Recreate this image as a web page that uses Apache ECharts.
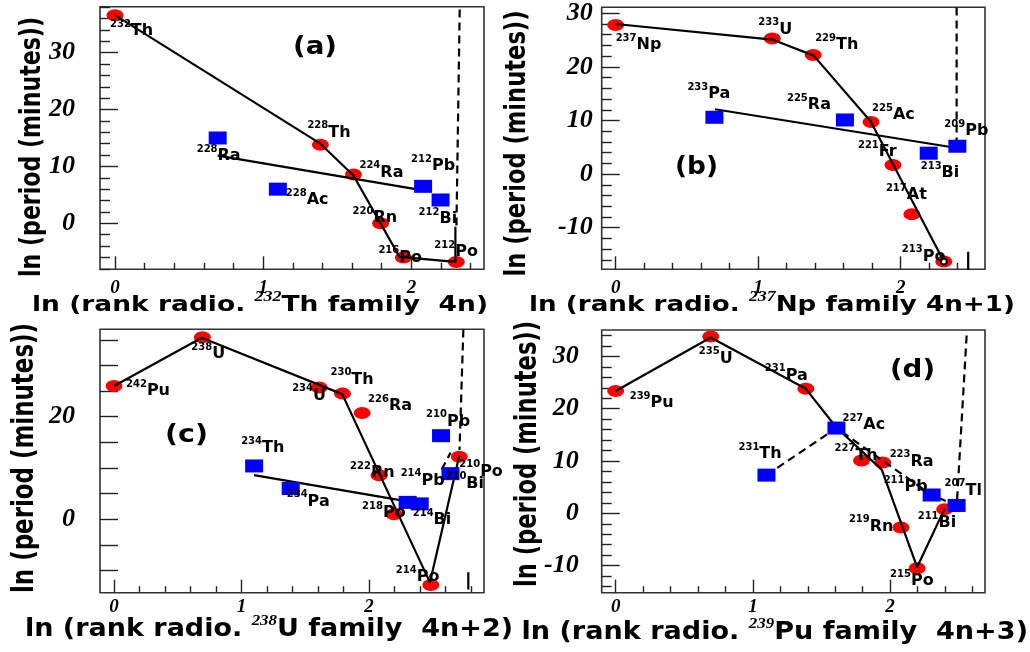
<!DOCTYPE html>
<html>
<head>
<meta charset="utf-8">
<script src="https://cdn.jsdelivr.net/npm/echarts@6/dist/echarts.min.js"></script>
<style>
  html, body { margin: 0; padding: 0; background: #fff; }
  #chart { width: 1030px; height: 652px; }
</style>
</head>
<body>
<div id="chart"></div>
<script>
// x = ln(rank of the nuclide in its radioactive family), y = ln(half-life in minutes)
// Red = alpha emitters, blue = beta emitters.

// ---------- (a) 232Th family, 4n ----------
const thAlphaNuclides = ['232Th', '228Th', '224Ra', '220Rn', '216Po', '212Po'];
const thAlphaX = [0, 1.386, 1.609, 1.792, 1.946, 2.303];
const thAlphaY = [36.6, 13.8, 8.6, 0.0, -6.0, -6.8];
const thBetaNuclides = ['228Ra', '228Ac', '212Pb', '212Bi'];
const thBetaX = [0.693, 1.099, 2.079, 2.197];
const thBetaY = [15.0, 6.0, 6.5, 4.1];
const thAlphaPathX = [0, 1.386, 1.609, 1.92, 2.297, 2.297];
const thAlphaPathY = [36.6, 14.0, 8.4, -5.9, -6.8, -0.6];
const thBetaFitX = [0.693, 2.079];
const thBetaFitY = [11.9, 5.8];
const thLimitX = [2.326, 2.304];
const thLimitY = [37.6, -0.6];

// ---------- (b) 237Np family, 4n+1 ----------
const npAlphaNuclides = ['237Np', '233U', '229Th', '225Ac', '221Fr', '217At', '213Po'];
const npAlphaX = [0, 1.099, 1.386, 1.792, 1.946, 2.079, 2.303];
const npAlphaY = [27.8, 25.3, 22.2, 9.7, 1.7, -7.5, -16.3];
const npBetaNuclides = ['233Pa', '225Ra', '213Bi', '209Pb'];
const npBetaX = [0.693, 1.609, 2.197, 2.398];
const npBetaY = [10.6, 10.1, 3.9, 5.2];
const npAlphaPathX = [0, 1.099, 1.39, 1.79, 2.295];
const npAlphaPathY = [28.0, 25.1, 22.1, 9.8, -15.9];
const npBetaFitX = [0.697, 2.34];
const npBetaFitY = [12.1, 5.1];
const npLimitX = [2.393, 2.393];
const npLimitY = [31.1, 5.2];
const npMarkX = [2.474, 2.474];
const npMarkY = [-14.5, -17.8];

// ---------- (c) 238U family, 4n+2 ----------
const uAlphaNuclides = ['242Pu', '238U', '234U', '230Th', '226Ra', '222Rn', '218Po', '214Po', '210Po'];
const uAlphaX = [0, 0.693, 1.609, 1.792, 1.946, 2.079, 2.197, 2.485, 2.708];
const uAlphaY = [26.0, 35.5, 25.7, 24.5, 20.7, 8.6, 1.0, -12.8, 12.2];
const uBetaNuclides = ['234Th', '234Pa', '214Pb', '214Bi', '210Pb', '210Bi'];
const uBetaX = [1.099, 1.386, 2.303, 2.398, 2.565, 2.639];
const uBetaY = [10.4, 6.0, 3.3, 3.0, 16.3, 8.9];
const uAlphaPathX = [0, 0.688, 1.79, 2.478, 2.708];
const uAlphaPathY = [26.0, 35.4, 24.4, -12.3, 12.4];
const uBetaFitX = [1.098, 2.30];
const uBetaFitY = [8.6, 3.5];
const uLimitX = [2.74, 2.71];
const uLimitY = [37.0, 13.5];
const uLinkX = [2.57, 2.64];
const uLinkY = [9.7, 13.0];
const uMarkX = [2.779, 2.779];
const uMarkY = [-10.3, -13.7];

// ---------- (d) 239Pu family, 4n+3 ----------
const puAlphaNuclides = ['239Pu', '235U', '231Pa', '227Th', '223Ra', '219Rn', '215Po', '211Bi'];
const puAlphaX = [0, 0.693, 1.386, 1.792, 1.946, 2.079, 2.197, 2.398];
const puAlphaY = [23.4, 33.8, 23.8, 10.1, 9.7, -2.7, -10.5, 0.8];
const puBetaNuclides = ['231Th', '227Ac', '211Pb', '207Tl'];
const puBetaX = [1.099, 1.609, 2.303, 2.485];
const puBetaY = [7.3, 16.3, 3.5, 1.5];
const puAlphaPathX = [0, 0.693, 1.386, 1.609, 1.94, 2.197, 2.398];
const puAlphaPathY = [23.4, 33.6, 23.8, 16.4, 8.3, -10.3, 0.9];
const puBetaPathX = [1.099, 1.609, 2.303, 2.485];
const puBetaPathY = [7.3, 16.3, 3.5, 1.5];
const puLimitX = [2.558, 2.486];
const puLimitY = [34.0, 1.5];

// ---------- tick values ----------
const xMajorTicks = [0, 1, 2];
const xMinorTicksA = [0.2, 0.4, 0.6, 0.8, 1.2, 1.4, 1.6, 1.8, 2.2, 2.4];
const xMinorTicksC = [0.2, 0.4, 0.6, 0.8, 1.2, 1.4, 1.6, 1.8, 2.2, 2.4, 2.6, 2.8];
const xMinorTicksD = [0.2, 0.4, 0.6, 0.8, 1.2, 1.4, 1.6, 1.8, 2.2, 2.4, 2.6];
const yMajorTicksA = [0, 10, 20, 30];
const yMinorTicksA = [-8, -6, -4, -2, 2, 4, 6, 8, 12, 14, 16, 18, 22, 24, 26, 28, 32, 34, 36, 38];
const yMajorTicksB = [-10, 0, 10, 20, 30];
const yMinorTicksB = [-16, -14, -12, -8, -6, -4, -2, 2, 4, 6, 8, 12, 14, 16, 18, 22, 24, 26, 28];
const yTicksC = [-10, -5, 0, 5, 10, 15, 20, 25, 30, 35];
const yLabelsC = [0, 20];
const yMajorTicksD = [-10, 0, 10, 20, 30];
const yMinorTicksD = [-14, -12, -8, -6, -4, -2, 2, 4, 6, 8, 12, 14, 16, 18, 22, 24, 26, 28, 32, 34];

// ---------- text placement of nuclide names (pixel offsets from the marker) ----------
const thAlphaLabelPos = [[-5, 16], [-13, -12], [6, -2], [-28, -5], [-25, 0], [-22, -10]];
const thBetaLabelPos = [[-21, 18], [8, 11], [-12, -20], [-22, 19]];
const npAlphaLabelPos = [[0, 20], [-14, -9], [2, -10], [1, -7], [-35, -13], [-26, -19], [-42, -5]];
const npBetaLabelPos = [[-27, -23], [-58, -15], [-8, 20], [-13, -15]];
const uAlphaLabelPos = [[12, 5], [-11, 17], [-27, 8], [-12, -14], [6, -7], [-29, -2], [-32, -1], [-35, -8], [0, 15]];
const uBetaLabelPos = [[-13, -18], [-4, 13], [-7, -22], [-7, 16], [-15, -14], [-5, 10]];
const puAlphaLabelPos = [[14, 12], [-12, 22], [-41, -13], [-27, -5], [7, -1], [-52, -1], [-27, 13], [-27, 14]];
const puBetaLabelPos = [[-28, -21], [6, -3], [-48, -8], [-12, -15]];

const SANS = '"DejaVu Sans", sans-serif';
const SERIF = '"Liberation Serif", "DejaVu Serif", serif';

const zip = (xs, ys) => xs.map((x, i) => [x, ys[i]]);

const panels = [
  {
    grid: { left: 100, top: 6.7, width: 384, height: 262.6 },
    xMin: -0.101, xMax: 2.49, yMin: -8.09, yMax: 38.09,
    xMajor: xMajorTicks, xMinor: xMinorTicksA,
    yMajor: yMajorTicksA, yMinor: yMinorTicksA, yLabels: yMajorTicksA,
    yMajorLen: 18, yLabelMargin: 25, xLabelMargin: 9,
    alpha: [thAlphaNuclides, thAlphaX, thAlphaY, thAlphaLabelPos],
    beta: [thBetaNuclides, thBetaX, thBetaY, thBetaLabelPos],
    solid: [zip(thAlphaPathX, thAlphaPathY), zip(thBetaFitX, thBetaFitY)],
    dashed: [zip(thLimitX, thLimitY)]
  },
  {
    grid: { left: 601.7, top: 7.3, width: 383.3, height: 262 },
    xMin: -0.098, xMax: 2.592, yMin: -17.76, yMax: 31.12,
    xMajor: xMajorTicks, xMinor: xMinorTicksA,
    yMajor: yMajorTicksB, yMinor: yMinorTicksB, yLabels: yMajorTicksB,
    yMajorLen: 18, yLabelMargin: 9, xLabelMargin: 9,
    alpha: [npAlphaNuclides, npAlphaX, npAlphaY, npAlphaLabelPos],
    beta: [npBetaNuclides, npBetaX, npBetaY, npBetaLabelPos],
    solid: [zip(npAlphaPathX, npAlphaPathY), zip(npBetaFitX, npBetaFitY), zip(npMarkX, npMarkY)],
    dashed: [zip(npLimitX, npLimitY)]
  },
  {
    grid: { left: 100, top: 329.3, width: 384, height: 263.4 },
    xMin: -0.11, xMax: 2.902, yMin: -14.31, yMax: 37.04,
    xMajor: xMajorTicks, xMinor: xMinorTicksC,
    yMajor: yTicksC, yMinor: [], yLabels: yLabelsC,
    yMajorLen: 18, yLabelMargin: 25, xLabelMargin: 5,
    alpha: [uAlphaNuclides, uAlphaX, uAlphaY, uAlphaLabelPos],
    beta: [uBetaNuclides, uBetaX, uBetaY, uBetaLabelPos],
    solid: [zip(uAlphaPathX, uAlphaPathY), zip(uBetaFitX, uBetaFitY), zip(uMarkX, uMarkY)],
    dashed: [zip(uLimitX, uLimitY), zip(uLinkX, uLinkY)]
  },
  {
    grid: { left: 601.7, top: 330, width: 383.3, height: 262.7 },
    xMin: -0.102, xMax: 2.692, yMin: -15.18, yMax: 35.05,
    xMajor: xMajorTicks, xMinor: xMinorTicksD,
    yMajor: yMajorTicksD, yMinor: yMinorTicksD, yLabels: yMajorTicksD,
    yMajorLen: 18, yLabelMargin: 23, xLabelMargin: 5,
    alpha: [puAlphaNuclides, puAlphaX, puAlphaY, puAlphaLabelPos],
    beta: [puBetaNuclides, puBetaX, puBetaY, puBetaLabelPos],
    solid: [zip(puAlphaPathX, puAlphaPathY)],
    dashed: [zip(puBetaPathX, puBetaPathY), zip(puLimitX, puLimitY)]
  }
];

const tickLine = { color: '#222', width: 1.4 };
const tickFont = (size) => ({
  fontFamily: SERIF, fontStyle: 'italic', fontWeight: 'bold', fontSize: size, color: '#000'
});

const grids = [], xAxes = [], yAxes = [], series = [];

panels.forEach((p, i) => {
  grids.push(Object.assign({ show: true, borderColor: '#333', borderWidth: 1.6 }, p.grid));

  const xBase = { type: 'value', gridIndex: i, position: 'bottom', min: p.xMin, max: p.xMax,
    axisLine: { show: false, onZero: false }, splitLine: { show: false } };
  xAxes.push(Object.assign({}, xBase, {
    axisTick: { show: true, inside: true, length: 13, customValues: p.xMajor, lineStyle: tickLine },
    axisLabel: Object.assign({ show: true, customValues: p.xMajor, margin: p.xLabelMargin,
      formatter: v => String(v) }, tickFont(19))
  }));
  xAxes.push(Object.assign({}, xBase, {
    axisTick: { show: true, inside: true, length: 6.5, customValues: p.xMinor, lineStyle: tickLine },
    axisLabel: { show: false }
  }));

  const yBase = { type: 'value', gridIndex: i, position: 'left', min: p.yMin, max: p.yMax,
    axisLine: { show: false, onZero: false }, splitLine: { show: false } };
  yAxes.push(Object.assign({}, yBase, {
    axisTick: { show: true, inside: true, length: p.yMajorLen, customValues: p.yMajor, lineStyle: tickLine },
    axisLabel: Object.assign({ show: true, customValues: p.yLabels, margin: p.yLabelMargin,
      formatter: v => String(v) }, tickFont(26))
  }));
  yAxes.push(Object.assign({}, yBase, {
    axisTick: { show: p.yMinor.length > 0, inside: true, length: 10, customValues: p.yMinor, lineStyle: tickLine },
    axisLabel: { show: false }
  }));

  const ax = { xAxisIndex: 2 * i, yAxisIndex: 2 * i };

  // alpha emitters (red ellipses)
  series.push(Object.assign({
    type: 'scatter', z: 2, symbol: 'circle', symbolSize: [17, 12], silent: true,
    itemStyle: { color: '#ff0000', opacity: 1 },
    data: zip(p.alpha[1], p.alpha[2])
  }, ax));

  // chain paths and fits
  p.solid.forEach(d => series.push(Object.assign({
    type: 'line', z: 3, data: d, symbol: 'none', silent: true,
    lineStyle: { color: '#000', width: 2.2 }
  }, ax)));
  p.dashed.forEach(d => series.push(Object.assign({
    type: 'line', z: 3, data: d, symbol: 'none', silent: true,
    lineStyle: { color: '#000', width: 2.2, type: [8, 5] }
  }, ax)));

  // beta emitters (blue boxes)
  series.push(Object.assign({
    type: 'scatter', z: 4, symbol: 'rect', symbolSize: [18, 13], silent: true,
    itemStyle: { color: '#0000ff', opacity: 1 },
    data: zip(p.beta[1], p.beta[2])
  }, ax));

  // nuclide names: mass number as superscript
  [p.alpha, p.beta].forEach(([names, xs, ys, pos]) => {
    series.push(Object.assign({
      type: 'scatter', z: 6, symbol: 'circle', symbolSize: 1, silent: true,
      itemStyle: { color: 'rgba(0,0,0,0)', opacity: 1 },
      data: names.map((n, k) => ({
        name: n, value: [xs[k], ys[k]],
        label: { offset: pos[k] }
      })),
      label: {
        show: true, position: 'inside', align: 'left', verticalAlign: 'middle',
        color: '#000', opacity: 1, textBorderWidth: 0,
        formatter: prm => {
          const m = prm.name.match(/^(\d+)(\D+)$/);
          return '{s|' + m[1] + '}{m|' + m[2] + '}';
        },
        rich: {
          s: { fontFamily: SANS, fontWeight: 'bold', fontSize: 10, color: '#000',
               verticalAlign: 'top', lineHeight: 12 },
          m: { fontFamily: SANS, fontWeight: 'bold', fontSize: 16, color: '#000', lineHeight: 24 }
        }
      }
    }, ax));
  });
});

// small ring drawn inside the 213Po marker of panel (b)
series.push({
  type: 'scatter', xAxisIndex: 2, yAxisIndex: 2, z: 5, silent: true,
  symbol: 'emptyCircle', symbolSize: 6,
  itemStyle: { color: '#000', borderColor: '#000', borderWidth: 1.2, opacity: 1 },
  data: [[npAlphaX[6], npAlphaY[6]]]
});

// ---------- titles and panel tags ----------
const mctx = document.createElement('canvas').getContext('2d');
const measure = (str, font) => { mctx.font = font; return mctx.measureText(str).width; };

const xTitles = [
  { pre: 'ln (rank radio. ', sup: '232', post: 'Th family  4n)', left: 32, right: 488, y: 305.5, size: 22 },
  { pre: 'ln (rank radio. ', sup: '237', post: 'Np family 4n+1)', left: 529, right: 1015, y: 305.5, size: 22 },
  { pre: 'ln (rank radio. ', sup: '238', post: 'U family  4n+2)', left: 25, right: 513, y: 629.5, size: 24 },
  { pre: 'ln (rank radio. ', sup: '239', post: 'Pu family  4n+3)', left: 521.5, right: 1028, y: 632.5, size: 24 }
];
const yTitle = 'ln (period (minutes))';
const yTitles = [
  { x: 33, y: 147, len: 260, size: 22 },
  { x: 518, y: 143.5, len: 266, size: 22 },
  { x: 25, y: 458, len: 270, size: 23 },
  { x: 528, y: 454, len: 266, size: 23 }
];
const tags = [
  { text: '(a)', x: 315, y: 48, w: 44 },
  { text: '(b)', x: 696.5, y: 167.5, w: 43 },
  { text: '(c)', x: 186.5, y: 436, w: 43 },
  { text: '(d)', x: 912.5, y: 371, w: 45 }
];

const graphics = [];
xTitles.forEach(t => {
  const mainFont = 'bold ' + t.size + 'px ' + SANS;
  const supFont = 'italic bold 15px ' + SERIF;
  const natural = measure(t.pre, mainFont) + measure(t.sup, supFont) + measure(t.post, mainFont);
  graphics.push({
    type: 'text', x: t.left, y: t.y, scaleX: (t.right - t.left) / natural, silent: true, z: 10,
    style: {
      text: t.pre + '{s|' + t.sup + '}' + t.post,
      fontFamily: SANS, fontWeight: 'bold', fontSize: t.size, lineHeight: 32,
      fill: '#000', align: 'left', verticalAlign: 'middle',
      rich: {
        s: { fontFamily: SERIF, fontStyle: 'italic', fontWeight: 'bold', fontSize: 15,
             fill: '#000', verticalAlign: 'top', lineHeight: 15 }
      }
    }
  });
});
yTitles.forEach(t => {
  const natural = measure(yTitle, 'bold ' + t.size + 'px ' + SANS);
  graphics.push({
    type: 'text', x: t.x, y: t.y, rotation: Math.PI / 2,
    scaleX: t.len / natural, scaleY: 1.3, silent: true, z: 10,
    style: {
      text: yTitle, fontFamily: SANS, fontWeight: 'bold', fontSize: t.size,
      fill: '#000', align: 'center', verticalAlign: 'middle'
    }
  });
});
tags.forEach(t => {
  const natural = measure(t.text, 'bold 24px ' + SANS);
  graphics.push({
    type: 'text', x: t.x, y: t.y, scaleX: t.w / natural, silent: true, z: 10,
    style: {
      text: t.text, fontFamily: SANS, fontWeight: 'bold', fontSize: 24,
      fill: '#000', align: 'center', verticalAlign: 'middle'
    }
  });
});

const chart = echarts.init(document.getElementById('chart'), null, { renderer: 'canvas' });
chart.setOption({
  animation: false,
  backgroundColor: '#fff',
  grid: grids,
  xAxis: xAxes,
  yAxis: yAxes,
  series: series,
  graphic: graphics
});
</script>
</body>
</html>
